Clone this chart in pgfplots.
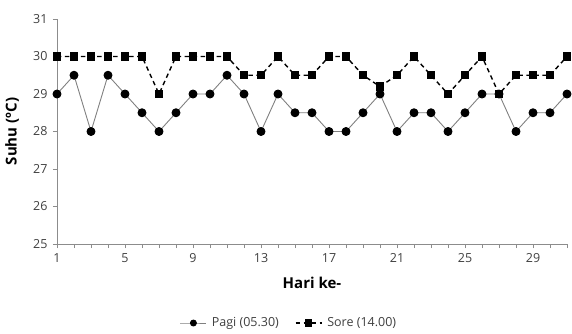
\documentclass[border=0pt]{standalone}
\usepackage{pgfplots}
\pgfplotsset{compat=1.18}
\usepackage{fontspec}
\setmainfont{Open Sans}
\definecolor{axisgray}{HTML}{8C8C8C}
\definecolor{ticktext}{HTML}{404040}
\begin{document}
\begin{tikzpicture}[x=1pt,y=1pt]
\path (-57pt,-89pt) rectangle (515pt,244pt);
\begin{axis}[
  at={(0,0)}, anchor=south west,
  scale only axis, width=510pt, height=225pt,
  xmin=1, xmax=31, ymin=25, ymax=31,
  axis lines*=left,
  axis line style={axisgray, line width=0.8pt},
  xtick={1,5,...,29}, minor xtick={1,...,31},
  ytick={25,...,31},
  tick align=outside,
  major tick length=4pt, minor tick length=4pt,
  tick style={axisgray, line width=0.8pt},
  every tick label/.append style={font=\fontsize{12.5}{14}\selectfont, text=ticktext},
  xticklabel style={anchor=center, yshift=-10pt},
  yticklabel style={anchor=east, xshift=-2pt},
  /pgf/number format/assume math mode=true,
  xlabel={\textbf{Hari ke-}}, ylabel={\textbf{Suhu (ºC)}},
  label style={font=\fontsize{15}{17}\selectfont},
  xlabel style={at={(0.5,0)}, anchor=center, yshift=-39pt},
  ylabel style={at={(0,0.5)}, anchor=center, yshift=45pt},
  legend style={at={(0.455,0)}, anchor=center, yshift=-79pt, draw=none, legend columns=2,
    font=\fontsize{12.5}{14}\selectfont, text=ticktext,
    /tikz/every odd column/.append style={column sep=3pt},
    /tikz/every even column/.append style={column sep=14pt}},
  legend cell align=left,
  legend image code/.code={\draw[mark repeat=2,mark phase=2,#1,mark size=3pt] plot coordinates {(0pt,0pt)(13pt,0pt)(26pt,0pt)};},
]
\addplot[color=gray, line width=0.9pt, mark=*, mark size=4pt, mark options={fill=black, draw=black, solid}]
coordinates {
(1,29)(2,29.5)(3,28)(4,29.5)(5,29)(6,28.5)(7,28)(8,28.5)(9,29)(10,29)
(11,29.5)(12,29)(13,28)(14,29)(15,28.5)(16,28.5)(17,28)(18,28)(19,28.5)(20,29)
(21,28)(22,28.5)(23,28.5)(24,28)(25,28.5)(26,29)(27,29)(28,28)(29,28.5)(30,28.5)(31,29)
};
\addlegendentry{Pagi (05.30)}
\addplot[color=black, line width=1.4pt, dash pattern=on 4.5pt off 3.5pt, mark=square*, mark size=3.5pt, mark options={fill=black, draw=black, solid}]
coordinates {
(1,30)(2,30)(3,30)(4,30)(5,30)(6,30)(7,29)(8,30)(9,30)(10,30)
(11,30)(12,29.5)(13,29.5)(14,30)(15,29.5)(16,29.5)(17,30)(18,30)(19,29.5)(20,29.2)
(21,29.5)(22,30)(23,29.5)(24,29)(25,29.5)(26,30)(27,29)(28,29.5)(29,29.5)(30,29.5)(31,30)
};
\addlegendentry{Sore (14.00)}
\end{axis}
\end{tikzpicture}
\end{document}
